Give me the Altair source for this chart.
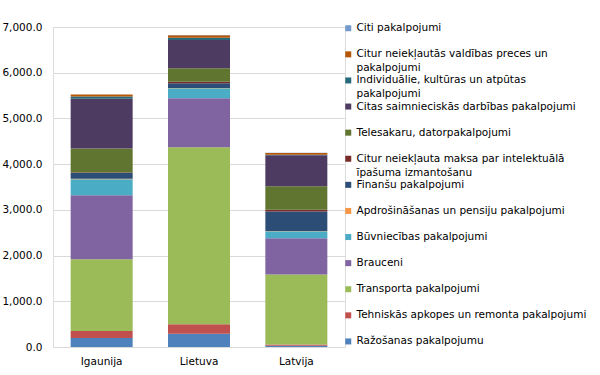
import altair as alt
import pandas as pd

countries = ["Igaunija", "Lietuva", "Latvija"]

# series, bottom of stack first
series = [
    "Ražošanas pakalpojumu",
    "Tehniskās apkopes un remonta pakalpojumi",
    "Transporta pakalpojumi",
    "Brauceni",
    "Būvniecības pakalpojumi",
    "Apdrošināšanas un pensiju pakalpojumi",
    "Finanšu pakalpojumi",
    "Citur neiekļauta maksa par intelektuālā īpašuma izmantošanu",
    "Telesakaru, datorpakalpojumi",
    "Citas saimnieciskās darbības pakalpojumi",
    "Individuālie, kultūras un atpūtas pakalpojumi",
    "Citur neiekļautās valdības preces un pakalpojumi",
    "Citi pakalpojumi",
]

# legend label lines (wrapped as in the reference)
legend_lines = [
    ["Ražošanas  pakalpojumu", ""],
    ["Tehniskās apkopes un remonta pakalpojumi", ""],
    ["Transporta pakalpojumi", ""],
    ["Brauceni", ""],
    ["Būvniecības pakalpojumi", ""],
    ["Apdrošināšanas un pensiju pakalpojumi", ""],
    ["Finanšu  pakalpojumi", ""],
    ["Citur neiekļauta maksa par intelektuālā", "īpašuma  izmantošanu"],
    ["Telesakaru, datorpakalpojumi", ""],
    ["Citas saimnieciskās  darbības pakalpojumi", ""],
    ["Individuālie,  kultūras un atpūtas", "pakalpojumi"],
    ["Citur neiekļautās valdības  preces un", "pakalpojumi"],
    ["Citi pakalpojumi", ""],
]

colors = [
    "#4F81BD", "#C0504D", "#9BBB59", "#8064A2", "#4BACC6", "#F79646",
    "#2C4D75", "#772C2A", "#5F7530", "#4D3B62", "#276A7C", "#B65708", "#729ACA",
]

# values per series: [Igaunija, Lietuva, Latvija]
v_razosanas = [195, 290, 25]
v_tehniskas = [155, 205, 32]
v_transporta = [1570, 3875, 1530]
v_brauceni = [1400, 1072, 790]
v_buvniecibas = [350, 219, 153]
v_apdrosinasanas = [8, 6, 5]
v_finansu = [128, 105, 430]
v_intelektuala = [10, 28, 35]
v_telesakaru = [525, 300, 519]
v_citas = [1092, 613, 678]
v_individualie = [44, 50, 8]
v_valdibas = [44, 58, 40]
v_citi = [5, 5, 3]

all_values = [v_razosanas, v_tehniskas, v_transporta, v_brauceni, v_buvniecibas,
              v_apdrosinasanas, v_finansu, v_intelektuala, v_telesakaru, v_citas,
              v_individualie, v_valdibas, v_citi]

rows = []
for i, (s, vals) in enumerate(zip(series, all_values)):
    for c, v in zip(countries, vals):
        rows.append({"country": c, "series": s, "idx": i, "value": v})
df = pd.DataFrame(rows)

# label expression for wrapped legend labels
expr = "['', '']"
for s, lines in zip(series, legend_lines):
    arr = "[" + ", ".join("'" + l + "'" for l in lines) + "]"
    expr = f"datum.label == '{s}' ? {arr} : ({expr})"

font = "DejaVu Sans"

chart = alt.Chart(df).mark_bar().encode(
    x=alt.X("country:N", sort=countries, title=None,
            scale=alt.Scale(paddingInner=0.363, paddingOuter=0.1815),
            axis=alt.Axis(labelAngle=0, ticks=False, domain=False, labelPadding=9,
                          labelFont=font, labelFontSize=10.5, labelColor="#000000")),
    y=alt.Y("value:Q", stack="zero", title=None,
            scale=alt.Scale(domain=[0, 7000], nice=False),
            axis=alt.Axis(values=[0, 1000, 2000, 3000, 4000, 5000, 6000, 7000],
                          format=",.1f", ticks=False, domain=False, labelPadding=11,
                          gridColor="#D9D9D9", gridWidth=1,
                          labelFont=font, labelFontSize=10.5, labelColor="#000000")),
    color=alt.Color("series:N", title=None,
                    scale=alt.Scale(domain=series[::-1], range=colors[::-1]),
                    legend=alt.Legend(orient="none", legendX=290, legendY=-4,
                                      symbolType="square", symbolSize=36,
                                      symbolStrokeWidth=0, labelExpr=expr,
                                      labelFont=font, labelFontSize=10.5,
                                      labelColor="#000000",
                                      labelLimit=400, rowPadding=1.1,
                                      labelOffset=3, padding=0)),
    order=alt.Order("idx:Q", sort="ascending"),
).properties(
    width=292, height=320,
    autosize=alt.AutoSizeParams(type="none"),
    padding={"left": 53, "top": 27, "right": 255, "bottom": 28},
).configure_view(stroke=None).configure(style={"guide-label": {"lineHeight": 14}})

chart.save("out.html", embed_options={"renderer": "svg", "actions": False})
